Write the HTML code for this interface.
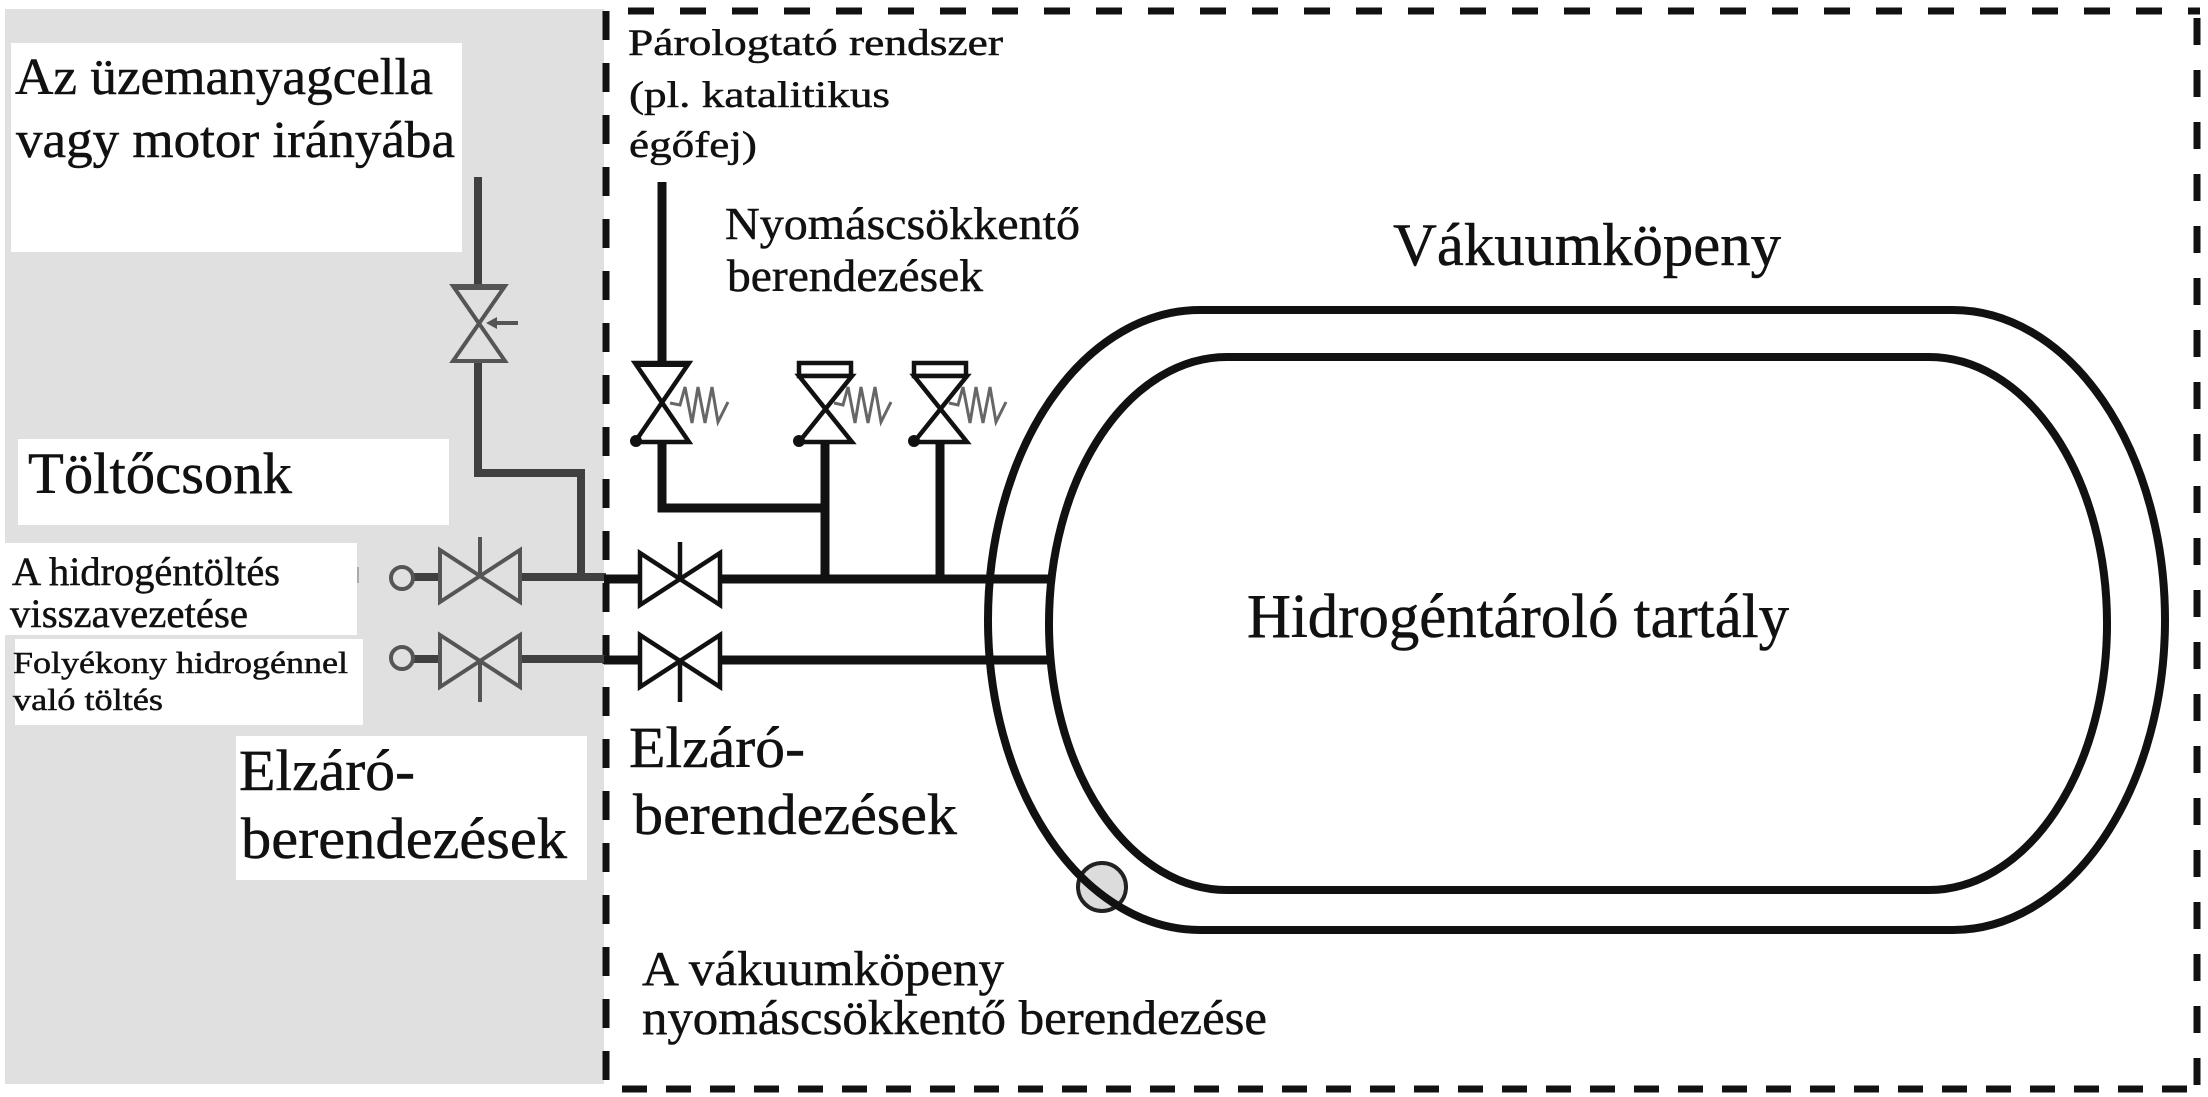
<!DOCTYPE html>
<html><head><meta charset="utf-8"><style>
html,body{margin:0;padding:0;background:#fff;}
svg{display:block;}
text{font-family:"Liberation Serif","DejaVu Serif",serif;fill:#111;stroke:#111;stroke-width:0.5;}
</style></head><body>
<svg width="2208" height="1097" viewBox="0 0 2208 1097" xmlns="http://www.w3.org/2000/svg">
<rect width="2208" height="1097" fill="#fff"/>
<!-- grey outside region -->
<rect x="5" y="9" width="599" height="1075" fill="#e0e0e0"/>
<!-- white label boxes -->
<rect x="11" y="43" width="451" height="209" fill="#fff"/>
<rect x="18" y="439" width="431" height="86" fill="#fff"/>
<rect x="5" y="543" width="352" height="92" fill="#fff"/>
<rect x="15" y="639" width="348" height="86" fill="#fff"/>
<rect x="236" y="736" width="351" height="144" fill="#fff"/>
<line x1="358" y1="567" x2="358" y2="583" stroke="#aaa" stroke-width="2"/>

<!-- dashed boundary -->
<g stroke="#111" stroke-width="7" fill="none">
<line x1="606" y1="11" x2="606" y2="1089" stroke-dasharray="29 23"/>
<line x1="628" y1="11" x2="2200" y2="11" stroke-dasharray="26 26"/>
<line x1="2197" y1="18" x2="2197" y2="1089" stroke-dasharray="27 25"/>
<line x1="622" y1="1089" x2="2197" y2="1089" stroke-dasharray="25 19"/>
</g>

<!-- LEFT (grey) piping -->
<g stroke="#404040" stroke-width="8" fill="none" stroke-linejoin="miter">
<polyline points="478,177 478,285"/>
<polyline points="478,362 478,473 581,473 581,577"/>
<line x1="413" y1="577" x2="440" y2="577"/>
<line x1="520" y1="577" x2="606" y2="577"/>
<line x1="413" y1="659" x2="440" y2="659"/>
<line x1="520" y1="659" x2="606" y2="659"/>
</g>
<g stroke="#555" stroke-width="4" fill="none">
<circle cx="402" cy="578" r="11"/>
<circle cx="402" cy="658" r="11"/>
<!-- vertical valve on fuel line -->
<path d="M453,286 L505,361 L453,361 L505,286 Z" fill="#e0e0e0"/>
<line x1="453" y1="287" x2="505" y2="287" stroke-width="6"/>
<line x1="492" y1="323" x2="518" y2="323" stroke-width="4"/>
<!-- horizontal valves left -->
<path d="M440,550 L520,602 L520,550 L440,602 Z" fill="#e0e0e0"/>
<path d="M440,635 L520,687 L520,635 L440,687 Z" fill="#e0e0e0"/>
<line x1="480" y1="537" x2="480" y2="576"/>
<line x1="480" y1="661" x2="480" y2="702"/>
</g>
<polygon points="486,323 497,317 497,329" fill="#555"/>

<!-- tank -->
<circle cx="1102" cy="887" r="24" fill="#dcdcdc" stroke="#222" stroke-width="4"/>
<rect x="988" y="310" width="1177" height="620" rx="212" ry="310" fill="none" stroke="#111" stroke-width="8"/>
<rect x="1049" y="357" width="1058" height="533" rx="178" ry="266" fill="none" stroke="#111" stroke-width="8"/>

<!-- RIGHT (black) piping -->
<g stroke="#111" stroke-width="9" fill="none" stroke-linejoin="miter">
<line x1="662" y1="182" x2="662" y2="362"/>
<polyline points="662,442 662,508 825,508"/>
<line x1="825" y1="443" x2="825" y2="580"/>
<line x1="940" y1="443" x2="940" y2="580"/>
<line x1="604" y1="579" x2="640" y2="579"/>
<line x1="720" y1="579" x2="1049" y2="579"/>
<line x1="604" y1="660" x2="640" y2="660"/>
<line x1="720" y1="660" x2="1049" y2="660"/>
</g>
<g stroke="#111" stroke-width="4.5" fill="#fff">
<!-- shut-off valves middle -->
<path d="M640,553 L720,605 L720,553 L640,605 Z"/>
<path d="M640,635 L720,687 L720,635 L640,687 Z"/>
<line x1="680" y1="542" x2="680" y2="579"/>
<line x1="680" y1="660" x2="680" y2="702"/>
<!-- relief valves -->
<path d="M635,363 L689,442 L635,442 L689,363 Z"/>
<line x1="635" y1="364" x2="689" y2="364" stroke-width="6"/>
<rect x="799" y="363" width="52" height="13"/>
<path d="M799,376 L852,442 L799,442 L852,376 Z"/>
<rect x="914" y="363" width="52" height="13"/>
<path d="M914,376 L967,442 L914,442 L967,376 Z"/>
</g>
<g fill="#111">
<circle cx="636" cy="441" r="6"/>
<circle cx="799" cy="441" r="6"/>
<circle cx="914" cy="441" r="6"/>
</g>
<g stroke="#666" stroke-width="3" fill="none" stroke-linejoin="miter">
<polyline points="670,403 680,405 685,387 692,423 698,387 705,423 712,387 718,422 728,402"/>
<polyline points="834,403 843,405 848,387 855,423 861,387 868,423 875,387 881,422 891,402"/>
<polyline points="949,403 958,405 963,387 970,423 976,387 983,423 990,387 996,422 1006,402"/>
</g>

<!-- TEXT -->
<text x="15" y="94" font-size="52" textLength="418" lengthAdjust="spacingAndGlyphs">Az üzemanyagcella</text>
<text x="16" y="157" font-size="52" textLength="439" lengthAdjust="spacingAndGlyphs">vagy motor irányába</text>
<text x="28" y="493" font-size="58" textLength="264" lengthAdjust="spacingAndGlyphs">Töltőcsonk</text>
<text x="12" y="585" font-size="40" textLength="268" lengthAdjust="spacingAndGlyphs">A hidrogéntöltés</text>
<text x="10" y="627" font-size="40" textLength="238" lengthAdjust="spacingAndGlyphs">visszavezetése</text>
<text x="13" y="673" font-size="31" textLength="335" lengthAdjust="spacingAndGlyphs">Folyékony hidrogénnel</text>
<text x="13" y="710" font-size="31" textLength="150" lengthAdjust="spacingAndGlyphs">való töltés</text>
<text x="239" y="790" font-size="58" textLength="176" lengthAdjust="spacingAndGlyphs">Elzáró-</text>
<text x="241" y="858" font-size="58" textLength="326" lengthAdjust="spacingAndGlyphs">berendezések</text>

<text x="628" y="55" font-size="37" textLength="375" lengthAdjust="spacingAndGlyphs">Párologtató rendszer</text>
<text x="629" y="107" font-size="37" textLength="261" lengthAdjust="spacingAndGlyphs">(pl. katalitikus</text>
<text x="629" y="157" font-size="37" textLength="128" lengthAdjust="spacingAndGlyphs">égőfej)</text>
<text x="725" y="239" font-size="46" textLength="355" lengthAdjust="spacingAndGlyphs">Nyomáscsökkentő</text>
<text x="727" y="291" font-size="46" textLength="256" lengthAdjust="spacingAndGlyphs">berendezések</text>
<text x="1393" y="265" font-size="60" textLength="388" lengthAdjust="spacingAndGlyphs">Vákuumköpeny</text>
<text x="1247" y="637" font-size="62" textLength="542" lengthAdjust="spacingAndGlyphs">Hidrogéntároló tartály</text>
<text x="629" y="767" font-size="58" textLength="176" lengthAdjust="spacingAndGlyphs">Elzáró-</text>
<text x="633" y="834" font-size="58" textLength="324" lengthAdjust="spacingAndGlyphs">berendezések</text>
<text x="642" y="985" font-size="49" textLength="362" lengthAdjust="spacingAndGlyphs">A vákuumköpeny</text>
<text x="642" y="1034" font-size="49" textLength="625" lengthAdjust="spacingAndGlyphs">nyomáscsökkentő berendezése</text>
</svg>
</body></html>
